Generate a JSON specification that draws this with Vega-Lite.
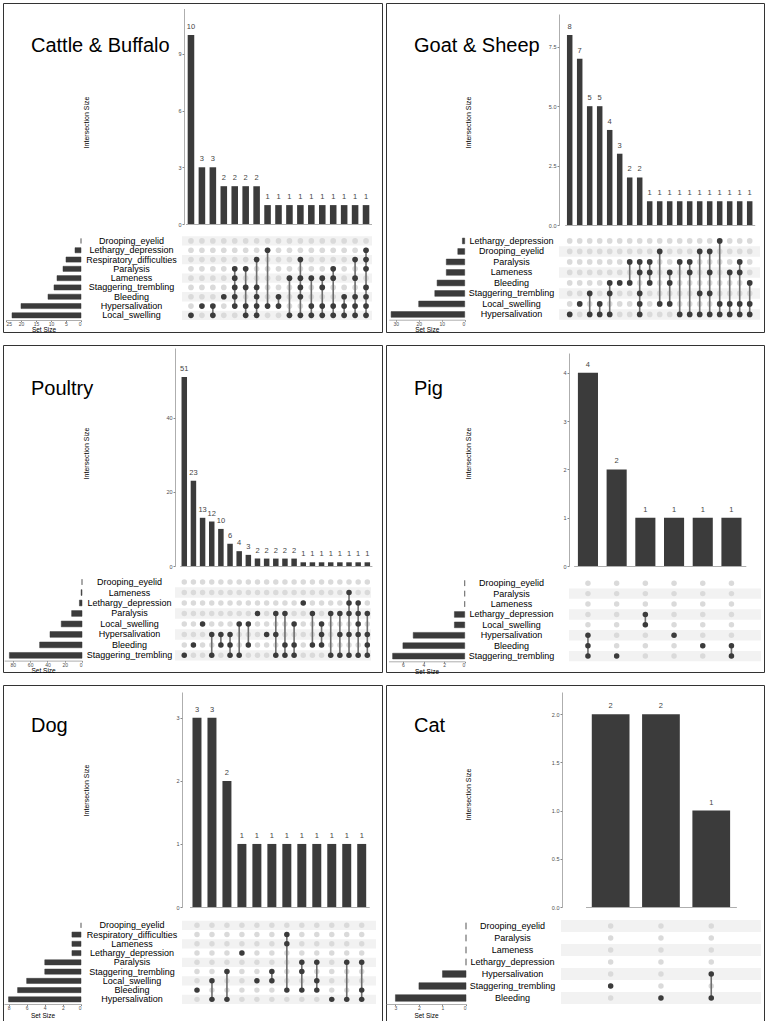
{
"$schema": "https://vega.github.io/schema/vega-lite/v6.json",
"padding": {"left": 2, "top": 2, "right": 0, "bottom": 0},
"background": "white",
"config": {
 "font": "Liberation Sans",
 "view": {"stroke": "#333333", "strokeWidth": 1},
 "axis": {"grid": false, "labelFont": "Liberation Sans", "titleFont": "Liberation Sans", "labelFontSize": 5.5, "labelColor": "#4d4d4d", "titleFontSize": 7, "titleFontWeight": "normal", "titleColor": "#000000", "tickSize": 2, "tickColor": "#888888", "domainColor": "#999999", "domainWidth": 0.8, "labelPadding": 1},
 "title": {"font": "Liberation Sans", "fontSize": 20, "fontWeight": "normal", "color": "#000000", "anchor": "start", "frame": "group", "baseline": "middle", "dx": 28}
},
"datasets": {
 "cattle_s": [
  {"set": "Drooping_eyelid", "size": 0, "rank": 9},
  {"set": "Lethargy_depression", "size": 2, "rank": 8},
  {"set": "Respiratory_difficulties", "size": 5, "rank": 7},
  {"set": "Paralysis", "size": 6, "rank": 6},
  {"set": "Lameness", "size": 8, "rank": 5},
  {"set": "Staggering_trembling", "size": 9, "rank": 4},
  {"set": "Bleeding", "size": 11, "rank": 3},
  {"set": "Hypersalivation", "size": 20, "rank": 2},
  {"set": "Local_swelling", "size": 23, "rank": 1}
 ],
 "cattle_i": [
  {"col": 1, "size": 10, "sets": ["Local_swelling"]},
  {"col": 2, "size": 3, "sets": ["Hypersalivation"]},
  {"col": 3, "size": 3, "sets": ["Hypersalivation", "Local_swelling"]},
  {"col": 4, "size": 2, "sets": ["Bleeding"]},
  {"col": 5, "size": 2, "sets": ["Paralysis", "Lameness", "Staggering_trembling", "Bleeding", "Hypersalivation"]},
  {"col": 6, "size": 2, "sets": ["Paralysis", "Staggering_trembling", "Hypersalivation", "Local_swelling"]},
  {"col": 7, "size": 2, "sets": ["Respiratory_difficulties", "Staggering_trembling", "Bleeding", "Hypersalivation", "Local_swelling"]},
  {"col": 8, "size": 1, "sets": ["Lethargy_depression", "Hypersalivation"]},
  {"col": 9, "size": 1, "sets": ["Bleeding", "Hypersalivation"]},
  {"col": 10, "size": 1, "sets": ["Lameness", "Local_swelling"]},
  {"col": 11, "size": 1, "sets": ["Respiratory_difficulties", "Lameness", "Staggering_trembling", "Bleeding", "Local_swelling"]},
  {"col": 12, "size": 1, "sets": ["Lameness", "Hypersalivation", "Local_swelling"]},
  {"col": 13, "size": 1, "sets": ["Lameness", "Staggering_trembling", "Hypersalivation", "Local_swelling"]},
  {"col": 14, "size": 1, "sets": ["Paralysis", "Lameness", "Hypersalivation", "Local_swelling"]},
  {"col": 15, "size": 1, "sets": ["Bleeding", "Hypersalivation", "Local_swelling"]},
  {"col": 16, "size": 1, "sets": ["Respiratory_difficulties", "Lameness", "Bleeding", "Hypersalivation", "Local_swelling"]},
  {"col": 17, "size": 1, "sets": ["Lethargy_depression", "Respiratory_difficulties", "Paralysis", "Staggering_trembling", "Bleeding", "Hypersalivation", "Local_swelling"]}
 ],
 "goat_s": [
  {"set": "Lethargy_depression", "size": 1, "rank": 8},
  {"set": "Drooping_eyelid", "size": 3, "rank": 7},
  {"set": "Paralysis", "size": 8, "rank": 6},
  {"set": "Lameness", "size": 8, "rank": 5},
  {"set": "Bleeding", "size": 12, "rank": 4},
  {"set": "Staggering_trembling", "size": 13, "rank": 3},
  {"set": "Local_swelling", "size": 20, "rank": 2},
  {"set": "Hypersalivation", "size": 32, "rank": 1}
 ],
 "goat_i": [
  {"col": 1, "size": 8, "sets": ["Hypersalivation"]},
  {"col": 2, "size": 7, "sets": ["Local_swelling"]},
  {"col": 3, "size": 5, "sets": ["Staggering_trembling", "Hypersalivation"]},
  {"col": 4, "size": 5, "sets": ["Local_swelling", "Hypersalivation"]},
  {"col": 5, "size": 4, "sets": ["Bleeding", "Staggering_trembling", "Hypersalivation"]},
  {"col": 6, "size": 3, "sets": ["Bleeding"]},
  {"col": 7, "size": 2, "sets": ["Paralysis", "Bleeding"]},
  {"col": 8, "size": 2, "sets": ["Paralysis", "Lameness", "Staggering_trembling", "Local_swelling", "Hypersalivation"]},
  {"col": 9, "size": 1, "sets": ["Paralysis", "Lameness", "Bleeding"]},
  {"col": 10, "size": 1, "sets": ["Drooping_eyelid", "Local_swelling"]},
  {"col": 11, "size": 1, "sets": ["Lameness", "Bleeding", "Local_swelling"]},
  {"col": 12, "size": 1, "sets": ["Paralysis", "Hypersalivation"]},
  {"col": 13, "size": 1, "sets": ["Paralysis", "Lameness", "Hypersalivation"]},
  {"col": 14, "size": 1, "sets": ["Drooping_eyelid", "Staggering_trembling", "Hypersalivation"]},
  {"col": 15, "size": 1, "sets": ["Drooping_eyelid", "Lameness", "Staggering_trembling", "Hypersalivation"]},
  {"col": 16, "size": 1, "sets": ["Lethargy_depression", "Local_swelling", "Hypersalivation"]},
  {"col": 17, "size": 1, "sets": ["Lameness", "Local_swelling", "Hypersalivation"]},
  {"col": 18, "size": 1, "sets": ["Paralysis", "Lameness", "Local_swelling", "Hypersalivation"]},
  {"col": 19, "size": 1, "sets": ["Bleeding", "Local_swelling", "Hypersalivation"]}
 ],
 "poultry_s": [
  {"set": "Drooping_eyelid", "size": 0, "rank": 8},
  {"set": "Lameness", "size": 1, "rank": 7},
  {"set": "Lethargy_depression", "size": 3, "rank": 6},
  {"set": "Paralysis", "size": 12, "rank": 5},
  {"set": "Local_swelling", "size": 24, "rank": 4},
  {"set": "Hypersalivation", "size": 37, "rank": 3},
  {"set": "Bleeding", "size": 49, "rank": 2},
  {"set": "Staggering_trembling", "size": 84, "rank": 1}
 ],
 "poultry_i": [
  {"col": 1, "size": 51, "sets": ["Staggering_trembling"]},
  {"col": 2, "size": 23, "sets": ["Bleeding"]},
  {"col": 3, "size": 13, "sets": ["Local_swelling"]},
  {"col": 4, "size": 12, "sets": ["Hypersalivation", "Staggering_trembling"]},
  {"col": 5, "size": 10, "sets": ["Hypersalivation", "Bleeding"]},
  {"col": 6, "size": 6, "sets": ["Hypersalivation", "Bleeding", "Staggering_trembling"]},
  {"col": 7, "size": 4, "sets": ["Local_swelling", "Staggering_trembling"]},
  {"col": 8, "size": 3, "sets": ["Local_swelling", "Bleeding"]},
  {"col": 9, "size": 2, "sets": ["Paralysis"]},
  {"col": 10, "size": 2, "sets": ["Hypersalivation"]},
  {"col": 11, "size": 2, "sets": ["Paralysis", "Hypersalivation", "Staggering_trembling"]},
  {"col": 12, "size": 2, "sets": ["Paralysis", "Bleeding", "Staggering_trembling"]},
  {"col": 13, "size": 2, "sets": ["Local_swelling", "Bleeding", "Staggering_trembling"]},
  {"col": 14, "size": 1, "sets": ["Lethargy_depression"]},
  {"col": 15, "size": 1, "sets": ["Paralysis", "Bleeding"]},
  {"col": 16, "size": 1, "sets": ["Local_swelling", "Hypersalivation", "Bleeding"]},
  {"col": 17, "size": 1, "sets": ["Paralysis", "Staggering_trembling"]},
  {"col": 18, "size": 1, "sets": ["Paralysis", "Hypersalivation", "Staggering_trembling"]},
  {"col": 19, "size": 1, "sets": ["Lameness", "Lethargy_depression", "Paralysis", "Hypersalivation", "Staggering_trembling"]},
  {"col": 20, "size": 1, "sets": ["Lethargy_depression", "Paralysis", "Local_swelling", "Hypersalivation", "Staggering_trembling"]},
  {"col": 21, "size": 1, "sets": ["Paralysis", "Hypersalivation", "Bleeding", "Staggering_trembling"]}
 ],
 "pig_s": [
  {"set": "Drooping_eyelid", "size": 0, "rank": 8},
  {"set": "Paralysis", "size": 0, "rank": 7},
  {"set": "Lameness", "size": 0, "rank": 6},
  {"set": "Lethargy_depression", "size": 1, "rank": 5},
  {"set": "Local_swelling", "size": 1, "rank": 4},
  {"set": "Hypersalivation", "size": 5, "rank": 3},
  {"set": "Bleeding", "size": 6, "rank": 2},
  {"set": "Staggering_trembling", "size": 7, "rank": 1}
 ],
 "pig_i": [
  {"col": 1, "size": 4, "sets": ["Hypersalivation", "Bleeding", "Staggering_trembling"]},
  {"col": 2, "size": 2, "sets": ["Staggering_trembling"]},
  {"col": 3, "size": 1, "sets": ["Lethargy_depression", "Local_swelling"]},
  {"col": 4, "size": 1, "sets": ["Hypersalivation"]},
  {"col": 5, "size": 1, "sets": ["Bleeding"]},
  {"col": 6, "size": 1, "sets": ["Bleeding", "Staggering_trembling"]}
 ],
 "dog_s": [
  {"set": "Drooping_eyelid", "size": 0, "rank": 9},
  {"set": "Respiratory_difficulties", "size": 1, "rank": 8},
  {"set": "Lameness", "size": 1, "rank": 7},
  {"set": "Lethargy_depression", "size": 1, "rank": 6},
  {"set": "Paralysis", "size": 4, "rank": 5},
  {"set": "Staggering_trembling", "size": 4, "rank": 4},
  {"set": "Local_swelling", "size": 6, "rank": 3},
  {"set": "Bleeding", "size": 7, "rank": 2},
  {"set": "Hypersalivation", "size": 8, "rank": 1}
 ],
 "dog_i": [
  {"col": 1, "size": 3, "sets": ["Bleeding"]},
  {"col": 2, "size": 3, "sets": ["Local_swelling", "Hypersalivation"]},
  {"col": 3, "size": 2, "sets": ["Staggering_trembling", "Hypersalivation"]},
  {"col": 4, "size": 1, "sets": ["Lethargy_depression"]},
  {"col": 5, "size": 1, "sets": ["Local_swelling"]},
  {"col": 6, "size": 1, "sets": ["Staggering_trembling", "Local_swelling"]},
  {"col": 7, "size": 1, "sets": ["Respiratory_difficulties", "Lameness", "Bleeding"]},
  {"col": 8, "size": 1, "sets": ["Paralysis", "Staggering_trembling", "Bleeding"]},
  {"col": 9, "size": 1, "sets": ["Paralysis", "Local_swelling", "Bleeding"]},
  {"col": 10, "size": 1, "sets": ["Hypersalivation"]},
  {"col": 11, "size": 1, "sets": ["Paralysis", "Hypersalivation"]},
  {"col": 12, "size": 1, "sets": ["Paralysis", "Bleeding", "Hypersalivation"]}
 ],
 "cat_s": [
  {"set": "Drooping_eyelid", "size": 0, "rank": 7},
  {"set": "Paralysis", "size": 0, "rank": 6},
  {"set": "Lameness", "size": 0, "rank": 5},
  {"set": "Lethargy_depression", "size": 0, "rank": 4},
  {"set": "Hypersalivation", "size": 1, "rank": 3},
  {"set": "Staggering_trembling", "size": 2, "rank": 2},
  {"set": "Bleeding", "size": 3, "rank": 1}
 ],
 "cat_i": [
  {"col": 1, "size": 2, "sets": ["Staggering_trembling"]},
  {"col": 2, "size": 2, "sets": ["Bleeding"]},
  {"col": 3, "size": 1, "sets": ["Hypersalivation", "Bleeding"]}
 ]
},
"columns": 2,
"spacing": {"row": 13, "column": 4},
"bounds": "flush",
"concat": [
{
 "width": 379, "height": 329,
 "title": {"text": "Cattle & Buffalo", "offset": -53},
 "resolve": {"scale": {"x": "independent", "y": "independent"}, "axis": {"x": "independent", "y": "independent"}},
 "layer": [
  {"data": {"name": "cattle_s"}, "transform": [{"filter": "datum.rank % 2 == 1"}], "mark": {"type": "bar", "color": "#f2f2f2"},
   "encoding": {
    "x": {"datum": "s", "type": "nominal", "scale": {"type": "band", "domain": ["s"], "range": [179, 369], "paddingInner": 0, "paddingOuter": 0}, "axis": null},
    "y": {"field": "set", "type": "nominal", "scale": {"type": "band", "domain": ["Drooping_eyelid","Lethargy_depression","Respiratory_difficulties","Paralysis","Lameness","Staggering_trembling","Bleeding","Hypersalivation","Local_swelling"], "range": [233.3, 317], "paddingInner": 0, "paddingOuter": 0}, "axis": null}}},
  {"data": {"name": "cattle_i"},
   "transform": [{"flatten": ["sets"], "as": ["set"]}, {"impute": "size", "key": "set", "keyvals": ["Drooping_eyelid","Lethargy_depression","Respiratory_difficulties","Paralysis","Lameness","Staggering_trembling","Bleeding","Hypersalivation","Local_swelling"], "groupby": ["col"], "method": "value", "value": 0}],
   "encoding": {
    "x": {"field": "col", "type": "ordinal", "scale": {"type": "band", "range": [182.5, 368.5], "paddingInner": 0.4, "paddingOuter": 0.2}, "axis": null},
    "y": {"field": "set", "type": "nominal", "scale": {"type": "band", "domain": ["Drooping_eyelid","Lethargy_depression","Respiratory_difficulties","Paralysis","Lameness","Staggering_trembling","Bleeding","Hypersalivation","Local_swelling"], "range": [233.3, 317], "paddingInner": 0, "paddingOuter": 0},
          "axis": {"orient": "left", "offset": -182.5, "domain": false, "ticks": false, "tickSize": 0, "labelAlign": "center", "labelBaseline": "middle", "labelPadding": 54.5, "labelFontSize": 9, "labelColor": "#000000", "labelOverlap": false, "title": null, "zindex": 1}}},
   "layer": [
    {"mark": {"type": "circle", "size": 32, "color": "#dadada", "opacity": 1}},
    {"transform": [{"filter": "datum.size > 0"}], "mark": {"type": "line", "color": "#6e6e6e", "strokeWidth": 1.6}, "encoding": {"detail": {"field": "col"}}},
    {"transform": [{"filter": "datum.size > 0"}], "mark": {"type": "circle", "size": 32, "color": "#3b3b3b", "opacity": 1}}
   ]},
  {"data": {"name": "cattle_s"}, "mark": {"type": "bar", "color": "#3b3b3b", "stroke": "#3b3b3b", "strokeWidth": 0.5},
   "encoding": {
    "y": {"field": "set", "type": "nominal", "scale": {"type": "band", "domain": ["Drooping_eyelid","Lethargy_depression","Respiratory_difficulties","Paralysis","Lameness","Staggering_trembling","Bleeding","Hypersalivation","Local_swelling"], "range": [233.3, 317], "paddingInner": 0.45, "paddingOuter": 0.225}, "axis": null},
    "x": {"field": "size", "type": "quantitative", "scale": {"domain": [0, 25], "range": [78, 3], "nice": false}, "axis": {"orient": "bottom", "offset": -12, "values": [0, 5, 10, 15, 20, 25], "tickSize": 1.5, "labelPadding": 0, "labelFontSize": 5, "title": "Set Size", "titleFontSize": 6.5, "titleY": 9.5, "titleBaseline": "middle"}}}},
  {"data": {"name": "cattle_i"},
   "encoding": {
    "x": {"field": "col", "type": "ordinal", "scale": {"type": "band", "range": [182.5, 368.5], "paddingInner": 0.4, "paddingOuter": 0.2}, "axis": {"orient": "bottom", "offset": -108, "labels": false, "ticks": false, "title": null}},
    "y": {"field": "size", "type": "quantitative", "scale": {"domain": [0, 11.4], "range": [221, 5.5], "nice": false}, "axis": {"orient": "left", "offset": -181, "values": [0, 3, 6, 9], "title": "Intersection Size", "titleX": -98, "titleY": 119, "titleAngle": -90, "titleAlign": "center", "titleBaseline": "middle"}}},
   "layer": [
    {"mark": {"type": "bar", "color": "#3b3b3b"}},
    {"mark": {"type": "text", "baseline": "bottom", "dy": -4, "fontSize": 7.5, "color": "#444444"}, "encoding": {"text": {"field": "size", "type": "quantitative"}}}
   ]}
 ]
},
{
 "width": 378, "height": 329,
 "title": {"text": "Goat & Sheep", "offset": -53},
 "resolve": {"scale": {"x": "independent", "y": "independent"}, "axis": {"x": "independent", "y": "independent"}},
 "layer": [
  {"data": {"name": "goat_s"}, "transform": [{"filter": "datum.rank % 2 == 1"}], "mark": {"type": "bar", "color": "#f2f2f2"},
   "encoding": {
    "x": {"datum": "s", "type": "nominal", "scale": {"type": "band", "domain": ["s"], "range": [173, 374], "paddingInner": 0, "paddingOuter": 0}, "axis": null},
    "y": {"field": "set", "type": "nominal", "scale": {"type": "band", "domain": ["Lethargy_depression","Drooping_eyelid","Paralysis","Lameness","Bleeding","Staggering_trembling","Local_swelling","Hypersalivation"], "range": [232.7, 316.7], "paddingInner": 0, "paddingOuter": 0}, "axis": null}}},
  {"data": {"name": "goat_i"},
   "transform": [{"flatten": ["sets"], "as": ["set"]}, {"impute": "size", "key": "set", "keyvals": ["Lethargy_depression","Drooping_eyelid","Paralysis","Lameness","Bleeding","Staggering_trembling","Local_swelling","Hypersalivation"], "groupby": ["col"], "method": "value", "value": 0}],
   "encoding": {
    "x": {"field": "col", "type": "ordinal", "scale": {"type": "band", "range": [178.7, 368.7], "paddingInner": 0.45, "paddingOuter": 0.225}, "axis": null},
    "y": {"field": "set", "type": "nominal", "scale": {"type": "band", "domain": ["Lethargy_depression","Drooping_eyelid","Paralysis","Lameness","Bleeding","Staggering_trembling","Local_swelling","Hypersalivation"], "range": [232.7, 316.7], "paddingInner": 0, "paddingOuter": 0},
          "axis": {"orient": "left", "offset": -178.7, "domain": false, "ticks": false, "tickSize": 0, "labelAlign": "center", "labelBaseline": "middle", "labelPadding": 53.7, "labelFontSize": 9, "labelColor": "#000000", "labelOverlap": false, "title": null, "zindex": 1}}},
   "layer": [
    {"mark": {"type": "circle", "size": 32, "color": "#dadada", "opacity": 1}},
    {"transform": [{"filter": "datum.size > 0"}], "mark": {"type": "line", "color": "#6e6e6e", "strokeWidth": 1.6}, "encoding": {"detail": {"field": "col"}}},
    {"transform": [{"filter": "datum.size > 0"}], "mark": {"type": "circle", "size": 32, "color": "#3b3b3b", "opacity": 1}}
   ]},
  {"data": {"name": "goat_s"}, "mark": {"type": "bar", "color": "#3b3b3b", "stroke": "#3b3b3b", "strokeWidth": 0.5},
   "encoding": {
    "y": {"field": "set", "type": "nominal", "scale": {"type": "band", "domain": ["Lethargy_depression","Drooping_eyelid","Paralysis","Lameness","Bleeding","Staggering_trembling","Local_swelling","Hypersalivation"], "range": [232.7, 316.7], "paddingInner": 0.45, "paddingOuter": 0.225}, "axis": null},
    "x": {"field": "size", "type": "quantitative", "scale": {"domain": [0, 33], "range": [78.7, 2.8], "nice": false}, "axis": {"orient": "bottom", "offset": -12.3, "values": [0, 10, 20, 30], "tickSize": 1.5, "labelPadding": 0, "labelFontSize": 5, "title": "Set Size", "titleFontSize": 6.5, "titleY": 9.5, "titleBaseline": "middle"}}}},
  {"data": {"name": "goat_i"},
   "encoding": {
    "x": {"field": "col", "type": "ordinal", "scale": {"type": "band", "range": [178.7, 368.7], "paddingInner": 0.45, "paddingOuter": 0.225}, "axis": {"orient": "bottom", "offset": -107, "labels": false, "ticks": false, "title": null}},
    "y": {"field": "size", "type": "quantitative", "scale": {"domain": [0, 8.88], "range": [222, 11], "nice": false}, "axis": {"orient": "left", "offset": -173, "values": [0, 2.5, 5, 7.5], "format": ".1f", "title": "Intersection Size", "titleX": -91, "titleY": 119, "titleAngle": -90, "titleAlign": "center", "titleBaseline": "middle"}}},
   "layer": [
    {"mark": {"type": "bar", "color": "#3b3b3b"}},
    {"mark": {"type": "text", "baseline": "bottom", "dy": -4, "fontSize": 7.5, "color": "#444444"}, "encoding": {"text": {"field": "size", "type": "quantitative"}}}
   ]}
 ]
},
{
 "width": 379, "height": 327,
 "title": {"text": "Poultry", "offset": -54},
 "resolve": {"scale": {"x": "independent", "y": "independent"}, "axis": {"x": "independent", "y": "independent"}},
 "layer": [
  {"data": {"name": "poultry_s"}, "transform": [{"filter": "datum.rank % 2 == 1"}], "mark": {"type": "bar", "color": "#f2f2f2"},
   "encoding": {
    "x": {"datum": "s", "type": "nominal", "scale": {"type": "band", "domain": ["s"], "range": [172, 368], "paddingInner": 0, "paddingOuter": 0}, "axis": null},
    "y": {"field": "set", "type": "nominal", "scale": {"type": "band", "domain": ["Drooping_eyelid","Lameness","Lethargy_depression","Paralysis","Local_swelling","Hypersalivation","Bleeding","Staggering_trembling"], "range": [231.8, 315.6], "paddingInner": 0, "paddingOuter": 0}, "axis": null}}},
  {"data": {"name": "poultry_i"},
   "transform": [{"flatten": ["sets"], "as": ["set"]}, {"impute": "size", "key": "set", "keyvals": ["Drooping_eyelid","Lameness","Lethargy_depression","Paralysis","Local_swelling","Hypersalivation","Bleeding","Staggering_trembling"], "groupby": ["col"], "method": "value", "value": 0}],
   "encoding": {
    "x": {"field": "col", "type": "ordinal", "scale": {"type": "band", "range": [176.7, 368.9], "paddingInner": 0.4, "paddingOuter": 0.2}, "axis": null},
    "y": {"field": "set", "type": "nominal", "scale": {"type": "band", "domain": ["Drooping_eyelid","Lameness","Lethargy_depression","Paralysis","Local_swelling","Hypersalivation","Bleeding","Staggering_trembling"], "range": [231.8, 315.6], "paddingInner": 0, "paddingOuter": 0},
          "axis": {"orient": "left", "offset": -176.7, "domain": false, "ticks": false, "tickSize": 0, "labelAlign": "center", "labelBaseline": "middle", "labelPadding": 50.7, "labelFontSize": 9, "labelColor": "#000000", "labelOverlap": false, "title": null, "zindex": 1}}},
   "layer": [
    {"mark": {"type": "circle", "size": 30, "color": "#dadada", "opacity": 1}},
    {"transform": [{"filter": "datum.size > 0"}], "mark": {"type": "line", "color": "#6e6e6e", "strokeWidth": 1.6}, "encoding": {"detail": {"field": "col"}}},
    {"transform": [{"filter": "datum.size > 0"}], "mark": {"type": "circle", "size": 30, "color": "#3b3b3b", "opacity": 1}}
   ]},
  {"data": {"name": "poultry_s"}, "mark": {"type": "bar", "color": "#3b3b3b", "stroke": "#3b3b3b", "strokeWidth": 0.5},
   "encoding": {
    "y": {"field": "set", "type": "nominal", "scale": {"type": "band", "domain": ["Drooping_eyelid","Lameness","Lethargy_depression","Paralysis","Local_swelling","Hypersalivation","Bleeding","Staggering_trembling"], "range": [231.8, 315.6], "paddingInner": 0.45, "paddingOuter": 0.225}, "axis": null},
    "x": {"field": "size", "type": "quantitative", "scale": {"domain": [0, 90], "range": [79, 1.2], "nice": false}, "axis": {"orient": "bottom", "offset": -11.4, "values": [0, 20, 40, 60, 80], "tickSize": 1.5, "labelPadding": 0, "labelFontSize": 5, "title": "Set Size", "titleFontSize": 6.5, "titleY": 10, "titleBaseline": "middle"}}}},
  {"data": {"name": "poultry_i"},
   "encoding": {
    "x": {"field": "col", "type": "ordinal", "scale": {"type": "band", "range": [176.7, 368.9], "paddingInner": 0.4, "paddingOuter": 0.2}, "axis": {"orient": "bottom", "offset": -106, "labels": false, "ticks": false, "title": null}},
    "y": {"field": "size", "type": "quantitative", "scale": {"domain": [0, 58.8], "range": [221, 3], "nice": false}, "axis": {"orient": "left", "offset": -172, "values": [0, 20, 40], "title": "Intersection Size", "titleX": -89, "titleY": 108, "titleAngle": -90, "titleAlign": "center", "titleBaseline": "middle"}}},
   "layer": [
    {"mark": {"type": "bar", "color": "#3b3b3b"}},
    {"mark": {"type": "text", "baseline": "bottom", "dy": -4, "fontSize": 7.5, "color": "#444444"}, "encoding": {"text": {"field": "size", "type": "quantitative"}}}
   ]}
 ]
},
{
 "width": 378, "height": 327,
 "title": {"text": "Pig", "offset": -54},
 "resolve": {"scale": {"x": "independent", "y": "independent"}, "axis": {"x": "independent", "y": "independent"}},
 "layer": [
  {"data": {"name": "pig_s"}, "transform": [{"filter": "datum.rank % 2 == 1"}], "mark": {"type": "bar", "color": "#f2f2f2"},
   "encoding": {
    "x": {"datum": "s", "type": "nominal", "scale": {"type": "band", "domain": ["s"], "range": [183, 375], "paddingInner": 0, "paddingOuter": 0}, "axis": null},
    "y": {"field": "set", "type": "nominal", "scale": {"type": "band", "domain": ["Drooping_eyelid","Paralysis","Lameness","Lethargy_depression","Local_swelling","Hypersalivation","Bleeding","Staggering_trembling"], "range": [233, 316.3], "paddingInner": 0, "paddingOuter": 0}, "axis": null}}},
  {"data": {"name": "pig_i"},
   "transform": [{"flatten": ["sets"], "as": ["set"]}, {"impute": "size", "key": "set", "keyvals": ["Drooping_eyelid","Paralysis","Lameness","Lethargy_depression","Local_swelling","Hypersalivation","Bleeding","Staggering_trembling"], "groupby": ["col"], "method": "value", "value": 0}],
   "encoding": {
    "x": {"field": "col", "type": "ordinal", "scale": {"type": "band", "range": [187.6, 359.8], "paddingInner": 0.3, "paddingOuter": 0.15}, "axis": null},
    "y": {"field": "set", "type": "nominal", "scale": {"type": "band", "domain": ["Drooping_eyelid","Paralysis","Lameness","Lethargy_depression","Local_swelling","Hypersalivation","Bleeding","Staggering_trembling"], "range": [233, 316.3], "paddingInner": 0, "paddingOuter": 0},
          "axis": {"orient": "left", "offset": -187.6, "domain": false, "ticks": false, "tickSize": 0, "labelAlign": "center", "labelBaseline": "middle", "labelPadding": 62.6, "labelFontSize": 9, "labelColor": "#000000", "labelOverlap": false, "title": null, "zindex": 1}}},
   "layer": [
    {"mark": {"type": "circle", "size": 30, "color": "#dadada", "opacity": 1}},
    {"transform": [{"filter": "datum.size > 0"}], "mark": {"type": "line", "color": "#6e6e6e", "strokeWidth": 1.6}, "encoding": {"detail": {"field": "col"}}},
    {"transform": [{"filter": "datum.size > 0"}], "mark": {"type": "circle", "size": 30, "color": "#3b3b3b", "opacity": 1}}
   ]},
  {"data": {"name": "pig_s"}, "mark": {"type": "bar", "color": "#3b3b3b", "stroke": "#3b3b3b", "strokeWidth": 0.5},
   "encoding": {
    "y": {"field": "set", "type": "nominal", "scale": {"type": "band", "domain": ["Drooping_eyelid","Paralysis","Lameness","Lethargy_depression","Local_swelling","Hypersalivation","Bleeding","Staggering_trembling"], "range": [233, 316.3], "paddingInner": 0.45, "paddingOuter": 0.225}, "axis": null},
    "x": {"field": "size", "type": "quantitative", "scale": {"domain": [0, 7.4], "range": [78.7, 2.5], "nice": false}, "axis": {"orient": "bottom", "offset": -10.7, "values": [0, 2, 4, 6], "tickSize": 1.5, "labelPadding": 0, "labelFontSize": 5, "title": "Set Size", "titleFontSize": 6.5, "titleY": 10, "titleBaseline": "middle"}}}},
  {"data": {"name": "pig_i"},
   "encoding": {
    "x": {"field": "col", "type": "ordinal", "scale": {"type": "band", "range": [187.6, 359.8], "paddingInner": 0.3, "paddingOuter": 0.15}, "axis": {"orient": "bottom", "offset": -106, "labels": false, "ticks": false, "title": null}},
    "y": {"field": "size", "type": "quantitative", "scale": {"domain": [0, 4.41], "range": [221, 8], "nice": false}, "axis": {"orient": "left", "offset": -183, "values": [0, 1, 2, 3, 4], "title": "Intersection Size", "titleX": -101, "titleY": 108, "titleAngle": -90, "titleAlign": "center", "titleBaseline": "middle"}}},
   "layer": [
    {"mark": {"type": "bar", "color": "#3b3b3b"}},
    {"mark": {"type": "text", "baseline": "bottom", "dy": -4, "fontSize": 7.5, "color": "#444444"}, "encoding": {"text": {"field": "size", "type": "quantitative"}}}
   ]}
 ]
},
{
 "width": 379, "height": 336,
 "title": {"text": "Dog", "offset": -51},
 "resolve": {"scale": {"x": "independent", "y": "independent"}, "axis": {"x": "independent", "y": "independent"}},
 "layer": [
  {"data": {"name": "dog_s"}, "transform": [{"filter": "datum.rank % 2 == 1"}], "mark": {"type": "bar", "color": "#f2f2f2"},
   "encoding": {
    "x": {"datum": "s", "type": "nominal", "scale": {"type": "band", "domain": ["s"], "range": [179, 373], "paddingInner": 0, "paddingOuter": 0}, "axis": null},
    "y": {"field": "set", "type": "nominal", "scale": {"type": "band", "domain": ["Drooping_eyelid","Respiratory_difficulties","Lameness","Lethargy_depression","Paralysis","Staggering_trembling","Local_swelling","Bleeding","Hypersalivation"], "range": [235.7, 319], "paddingInner": 0, "paddingOuter": 0}, "axis": null}}},
  {"data": {"name": "dog_i"},
   "transform": [{"flatten": ["sets"], "as": ["set"]}, {"impute": "size", "key": "set", "keyvals": ["Drooping_eyelid","Respiratory_difficulties","Lameness","Lethargy_depression","Paralysis","Staggering_trembling","Local_swelling","Bleeding","Hypersalivation"], "groupby": ["col"], "method": "value", "value": 0}],
   "encoding": {
    "x": {"field": "col", "type": "ordinal", "scale": {"type": "band", "range": [186.5, 366.2], "paddingInner": 0.4, "paddingOuter": 0.2}, "axis": null},
    "y": {"field": "set", "type": "nominal", "scale": {"type": "band", "domain": ["Drooping_eyelid","Respiratory_difficulties","Lameness","Lethargy_depression","Paralysis","Staggering_trembling","Local_swelling","Bleeding","Hypersalivation"], "range": [235.7, 319], "paddingInner": 0, "paddingOuter": 0},
          "axis": {"orient": "left", "offset": -186.5, "domain": false, "ticks": false, "tickSize": 0, "labelAlign": "center", "labelBaseline": "middle", "labelPadding": 58, "labelFontSize": 9, "labelColor": "#000000", "labelOverlap": false, "title": null, "zindex": 1}}},
   "layer": [
    {"mark": {"type": "circle", "size": 30, "color": "#dadada", "opacity": 1}},
    {"transform": [{"filter": "datum.size > 0"}], "mark": {"type": "line", "color": "#6e6e6e", "strokeWidth": 1.6}, "encoding": {"detail": {"field": "col"}}},
    {"transform": [{"filter": "datum.size > 0"}], "mark": {"type": "circle", "size": 30, "color": "#3b3b3b", "opacity": 1}}
   ]},
  {"data": {"name": "dog_s"}, "mark": {"type": "bar", "color": "#3b3b3b", "stroke": "#3b3b3b", "strokeWidth": 0.5},
   "encoding": {
    "y": {"field": "set", "type": "nominal", "scale": {"type": "band", "domain": ["Drooping_eyelid","Respiratory_difficulties","Lameness","Lethargy_depression","Paralysis","Staggering_trembling","Local_swelling","Bleeding","Hypersalivation"], "range": [235.7, 319], "paddingInner": 0.45, "paddingOuter": 0.225}, "axis": null},
    "x": {"field": "size", "type": "quantitative", "scale": {"domain": [0, 8.5], "range": [78, 1], "nice": false}, "axis": {"orient": "bottom", "offset": -17, "values": [0, 2, 4, 6, 8], "tickSize": 1.5, "labelPadding": 0, "labelFontSize": 5, "title": "Set Size", "titleFontSize": 6.5, "titleY": 11, "titleBaseline": "middle"}}}},
  {"data": {"name": "dog_i"},
   "encoding": {
    "x": {"field": "col", "type": "ordinal", "scale": {"type": "band", "range": [186.5, 366.2], "paddingInner": 0.4, "paddingOuter": 0.2}, "axis": {"orient": "bottom", "offset": -114, "labels": false, "ticks": false, "title": null}},
    "y": {"field": "size", "type": "quantitative", "scale": {"domain": [0, 3.41], "range": [222, 7], "nice": false}, "axis": {"orient": "left", "offset": -179, "values": [0, 1, 2, 3], "title": "Intersection Size", "titleX": -96, "titleY": 105, "titleAngle": -90, "titleAlign": "center", "titleBaseline": "middle"}}},
   "layer": [
    {"mark": {"type": "bar", "color": "#3b3b3b"}},
    {"mark": {"type": "text", "baseline": "bottom", "dy": -4, "fontSize": 7.5, "color": "#444444"}, "encoding": {"text": {"field": "size", "type": "quantitative"}}}
   ]}
 ]
},
{
 "width": 378, "height": 336,
 "title": {"text": "Cat", "offset": -51},
 "resolve": {"scale": {"x": "independent", "y": "independent"}, "axis": {"x": "independent", "y": "independent"}},
 "layer": [
  {"data": {"name": "cat_s"}, "transform": [{"filter": "datum.rank % 2 == 1"}], "mark": {"type": "bar", "color": "#f2f2f2"},
   "encoding": {
    "x": {"datum": "s", "type": "nominal", "scale": {"type": "band", "domain": ["s"], "range": [175, 375], "paddingInner": 0, "paddingOuter": 0}, "axis": null},
    "y": {"field": "set", "type": "nominal", "scale": {"type": "band", "domain": ["Drooping_eyelid","Paralysis","Lameness","Lethargy_depression","Hypersalivation","Staggering_trembling","Bleeding"], "range": [235, 319], "paddingInner": 0, "paddingOuter": 0}, "axis": null}}},
  {"data": {"name": "cat_i"},
   "transform": [{"flatten": ["sets"], "as": ["set"]}, {"impute": "size", "key": "set", "keyvals": ["Drooping_eyelid","Paralysis","Lameness","Lethargy_depression","Hypersalivation","Staggering_trembling","Bleeding"], "groupby": ["col"], "method": "value", "value": 0}],
   "encoding": {
    "x": {"field": "col", "type": "ordinal", "scale": {"type": "band", "range": [199.5, 350.4], "paddingInner": 0.25, "paddingOuter": 0.125}, "axis": null},
    "y": {"field": "set", "type": "nominal", "scale": {"type": "band", "domain": ["Drooping_eyelid","Paralysis","Lameness","Lethargy_depression","Hypersalivation","Staggering_trembling","Bleeding"], "range": [235, 319], "paddingInner": 0, "paddingOuter": 0},
          "axis": {"orient": "left", "offset": -199.5, "domain": false, "ticks": false, "tickSize": 0, "labelAlign": "center", "labelBaseline": "middle", "labelPadding": 73.5, "labelFontSize": 9, "labelColor": "#000000", "labelOverlap": false, "title": null, "zindex": 1}}},
   "layer": [
    {"mark": {"type": "circle", "size": 30, "color": "#dadada", "opacity": 1}},
    {"transform": [{"filter": "datum.size > 0"}], "mark": {"type": "line", "color": "#6e6e6e", "strokeWidth": 1.6}, "encoding": {"detail": {"field": "col"}}},
    {"transform": [{"filter": "datum.size > 0"}], "mark": {"type": "circle", "size": 30, "color": "#3b3b3b", "opacity": 1}}
   ]},
  {"data": {"name": "cat_s"}, "mark": {"type": "bar", "color": "#3b3b3b", "stroke": "#3b3b3b", "strokeWidth": 0.5},
   "encoding": {
    "y": {"field": "set", "type": "nominal", "scale": {"type": "band", "domain": ["Drooping_eyelid","Paralysis","Lameness","Lethargy_depression","Hypersalivation","Staggering_trembling","Bleeding"], "range": [235, 319], "paddingInner": 0.45, "paddingOuter": 0.225}, "axis": null},
    "x": {"field": "size", "type": "quantitative", "scale": {"domain": [0, 3.4], "range": [80, 0], "nice": false}, "axis": {"orient": "bottom", "offset": -17, "values": [0, 1, 2, 3], "tickSize": 1.5, "labelPadding": 0, "labelFontSize": 5, "title": "Set Size", "titleFontSize": 6.5, "titleY": 11, "titleBaseline": "middle"}}}},
  {"data": {"name": "cat_i"},
   "encoding": {
    "x": {"field": "col", "type": "ordinal", "scale": {"type": "band", "range": [199.5, 350.4], "paddingInner": 0.25, "paddingOuter": 0.125}, "axis": {"orient": "bottom", "offset": -114, "labels": false, "ticks": false, "title": null}},
    "y": {"field": "size", "type": "quantitative", "scale": {"domain": [0, 2.23], "range": [222, 7], "nice": false}, "axis": {"orient": "left", "offset": -176, "values": [0, 0.5, 1, 1.5, 2], "format": ".1f", "title": "Intersection Size", "titleX": -94, "titleY": 109, "titleAngle": -90, "titleAlign": "center", "titleBaseline": "middle"}}},
   "layer": [
    {"mark": {"type": "bar", "color": "#3b3b3b"}},
    {"mark": {"type": "text", "baseline": "bottom", "dy": -4, "fontSize": 7.5, "color": "#444444"}, "encoding": {"text": {"field": "size", "type": "quantitative"}}}
   ]}
 ]
}
]
}
